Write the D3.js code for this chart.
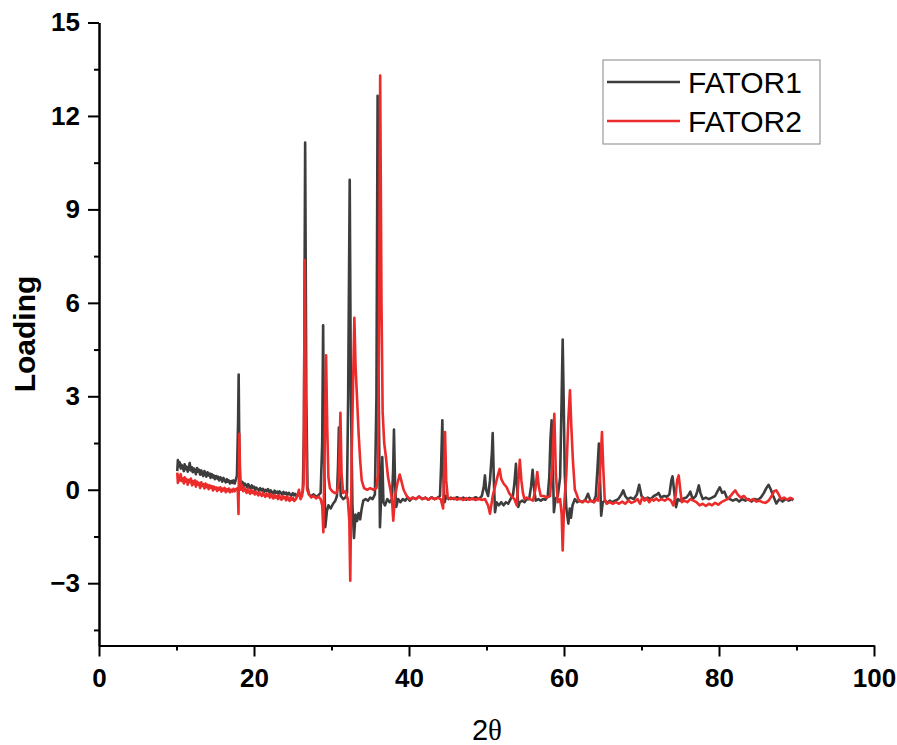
<!DOCTYPE html>
<html>
<head>
<meta charset="utf-8">
<script src="https://cdn.jsdelivr.net/npm/d3@7"></script>
<style>
  body { margin: 0; background: #fff; }
  svg { display: block; font-family: "Liberation Sans", Arial, sans-serif; }
  .axis path, .axis line { stroke: #000; stroke-width: 2px; }
  .axis text { font-size: 26px; font-weight: bold; fill: #000; }
  .series { fill: none; stroke-width: 2.6px; stroke-linejoin: round; }
</style>
</head>
<body>
<div id="chart"></div>
<script>
// series names and their loading profiles as [2θ, loading]
const seriesNames = ['FATOR1', 'FATOR2'];

const fator1Points = [
  [10.1,0.6],[10.18,0.95],[10.3,0.75],[10.4,0.88],[10.55,0.68],[10.65,0.8],[10.8,0.72],[10.95,0.6],[11.05,0.82],[11.2,0.66],
  [11.3,0.74],[11.45,0.58],[11.6,0.7],[11.7,0.86],[11.85,0.62],[12.0,0.72],[12.1,0.56],[12.25,0.68],[12.4,0.6],[12.5,0.5],
  [12.65,0.7],[12.8,0.58],[12.9,0.64],[13.05,0.48],[13.2,0.62],[13.3,0.54],[13.45,0.44],[13.6,0.6],[13.75,0.5],[13.85,0.42],
  [14.0,0.56],[14.15,0.46],[14.3,0.52],[14.4,0.38],[14.55,0.5],[14.7,0.4],[14.8,0.46],[14.95,0.34],[15.1,0.44],[15.25,0.36],
  [15.35,0.42],[15.5,0.3],[15.65,0.4],[15.8,0.34],[15.9,0.26],[16.05,0.38],[16.2,0.3],[16.35,0.24],[16.5,0.34],[16.6,0.26],
  [16.75,0.3],[16.9,0.2],[17.05,0.28],[17.2,0.22],[17.35,0.3],[17.5,0.2],[17.65,0.32],[17.8,0.45],
  [17.95,2.2],[18.02,3.7],[18.1,1.5],[18.2,0.3],[18.35,0.15],[18.5,0.25],[18.65,0.12],[18.8,0.2],[18.95,0.16],[19.1,0.08],
  [19.25,0.18],[19.4,0.1],[19.55,0.04],[19.7,0.14],[19.85,0.06],[20.0,0.1],[20.15,-0.01],[20.3,0.07],[20.5,0.02],[20.65,-0.04],
  [20.8,0.05],[21.0,-0.02],[21.15,0.03],[21.3,-0.07],[21.5,0.0],[21.65,-0.05],[21.8,0.02],[22.0,-0.09],[22.15,-0.02],[22.3,-0.07],
  [22.5,-0.12],[22.65,-0.03],[22.8,-0.1],[23.0,-0.06],[23.15,-0.13],[23.3,-0.05],[23.5,-0.11],[23.65,-0.16],[23.8,-0.07],[24.0,-0.13],
  [24.15,-0.09],[24.3,-0.17],[24.5,-0.1],[24.65,-0.15],[24.8,-0.2],[25.0,-0.11],[25.15,-0.18],[25.3,-0.13],[25.5,-0.21],[25.7,-0.14],
  [25.9,-0.2],[26.1,-0.15],[26.3,-0.05],[26.45,2.0],[26.6,11.15],[26.75,3.0],[26.9,0.1],
  [27.1,-0.15],[27.4,-0.2],[27.7,-0.15],[28.0,-0.22],[28.3,-0.18],[28.6,-0.1],[28.8,1.5],[28.92,5.28],[29.05,1.0],[29.2,-1.2],
  [29.4,-0.7],[29.6,-0.5],[29.9,-0.6],[30.2,-0.45],[30.5,-0.35],[30.7,-0.2],[30.85,0.8],[30.95,2.0],[31.05,0.5],[31.2,-0.2],
  [31.5,-0.3],[31.8,-0.25],[32.0,-0.1],[32.15,3.0],[32.35,9.95],[32.5,3.0],[32.7,-0.5],[32.9,-1.55],[33.1,-0.8],[33.3,-1.0],
  [33.5,-0.75],[33.7,-0.95],[33.9,-0.6],[34.1,-0.35],[34.4,-0.3],[34.7,-0.35],[35.0,-0.25],[35.3,-0.3],[35.6,-0.15],[35.8,3.0],
  [35.95,12.65],[36.1,3.0],[36.25,-1.2],[36.4,-0.3],[36.55,1.05],[36.7,-0.4],[36.9,-0.5],[37.2,-0.3],[37.5,-0.4],[37.8,-0.3],
  [37.95,0.6],[38.06,1.93],[38.2,0.2],[38.35,-0.55],[38.6,-0.3],[38.9,-0.4],[39.2,-0.3],[39.5,-0.35],[39.8,-0.25],[40.1,-0.35],
  [40.5,-0.25],[40.9,-0.3],[41.3,-0.22],[41.7,-0.3],[42.1,-0.25],[42.5,-0.32],[42.9,-0.24],[43.3,-0.3],[43.7,-0.25],[44.0,-0.2],
  [44.15,0.8],[44.3,2.23],[44.45,0.3],[44.6,-0.4],[44.8,-0.2],[45.1,-0.3],[45.4,-0.25],[45.8,-0.3],[46.2,-0.24],[46.6,-0.3],
  [47.0,-0.25],[47.4,-0.32],[47.8,-0.26],[48.2,-0.3],[48.6,-0.24],[49.0,-0.3],[49.4,-0.2],[49.65,0.1],[49.8,0.46],[49.95,0.0],
  [50.2,-0.2],[50.45,0.3],[50.7,1.2],[50.8,1.82],[50.95,0.3],[51.1,-0.72],[51.3,-0.4],[51.6,-0.5],[51.9,-0.4],[52.2,-0.5],
  [52.5,-0.4],[52.8,-0.45],[53.1,-0.3],[53.4,-0.2],[53.6,0.2],[53.8,0.83],[53.95,0.1],[54.1,-0.55],[54.3,-0.4],[54.6,-0.35],
  [54.9,-0.4],[55.2,-0.3],[55.5,-0.3],[55.75,0.1],[55.95,0.64],[56.15,0.0],[56.35,-0.35],[56.7,-0.3],[57.0,-0.35],[57.3,-0.3],
  [57.6,-0.32],[57.9,-0.2],[58.1,0.4],[58.25,1.6],[58.4,2.23],[58.55,0.8],[58.7,-0.72],[58.9,-0.3],[59.2,-0.2],[59.5,0.4],
  [59.7,3.0],[59.83,4.82],[59.95,3.0],[60.1,0.5],[60.3,-0.6],[60.56,-1.09],[60.75,-0.6],[60.9,-0.9],[61.1,-0.5],[61.4,-0.3],
  [61.7,-0.4],[62.0,-0.35],[62.4,-0.4],[62.8,-0.3],[63.1,-0.13],[63.4,-0.35],[63.8,-0.4],[64.1,-0.2],[64.3,0.6],[64.5,1.48],
  [64.65,0.3],[64.8,-0.83],[65.0,-0.4],[65.3,-0.35],[65.6,-0.42],[65.9,-0.35],[66.2,-0.4],[66.6,-0.35],[67.0,-0.3],[67.4,-0.15],
  [67.65,-0.02],[67.9,-0.2],[68.2,-0.3],[68.6,-0.25],[69.0,-0.3],[69.4,-0.15],[69.7,0.16],[70.0,-0.2],[70.4,-0.3],[70.8,-0.25],
  [71.2,-0.3],[71.6,-0.2],[72.0,-0.15],[72.2,-0.1],[72.5,-0.25],[72.9,-0.2],[73.3,-0.22],[73.6,-0.15],[73.85,0.3],[74.0,0.43],
  [74.2,0.0],[74.45,-0.56],[74.7,-0.3],[75.0,-0.35],[75.4,-0.28],[75.8,-0.25],[76.1,-0.15],[76.3,-0.06],[76.6,-0.3],[77.0,-0.2],
  [77.2,-0.05],[77.4,0.14],[77.6,-0.1],[77.9,-0.3],[78.3,-0.25],[78.7,-0.3],[79.1,-0.25],[79.5,-0.2],[79.8,-0.05],[80.1,0.08],
  [80.4,-0.1],[80.7,-0.06],[81.0,-0.25],[81.4,-0.3],[81.8,-0.35],[82.2,-0.3],[82.6,-0.38],[83.0,-0.3],[83.4,-0.35],[83.8,-0.3],
  [84.2,-0.38],[84.6,-0.3],[85.0,-0.33],[85.4,-0.25],[85.8,-0.1],[86.1,0.05],[86.4,0.16],[86.7,0.0],[87.0,-0.2],[87.4,-0.44],
  [87.8,-0.3],[88.2,-0.38],[88.6,-0.3],[89.0,-0.35],[89.4,-0.3],[89.6,-0.33]
];

const fator2Points = [
  [10.1,0.55],[10.18,0.22],[10.3,0.45],[10.4,0.3],[10.55,0.5],[10.65,0.28],[10.8,0.36],[10.95,0.2],[11.05,0.4],[11.2,0.26],
  [11.3,0.34],[11.45,0.16],[11.6,0.32],[11.7,0.24],[11.85,0.36],[12.0,0.14],[12.1,0.28],[12.25,0.18],[12.4,0.3],[12.5,0.1],
  [12.65,0.26],[12.8,0.16],[12.9,0.22],[13.05,0.06],[13.2,0.24],[13.3,0.12],[13.45,0.18],[13.6,0.04],[13.75,0.2],[13.85,0.08],
  [14.0,0.16],[14.15,0.02],[14.3,0.14],[14.4,0.06],[14.55,0.12],[14.7,-0.02],[14.8,0.1],[14.95,0.02],[15.1,0.08],[15.25,-0.04],
  [15.35,0.06],[15.5,0.0],[15.65,0.08],[15.8,-0.06],[15.9,0.04],[16.05,-0.02],[16.2,0.06],[16.35,-0.08],[16.5,0.02],[16.6,-0.04],
  [16.75,0.04],[16.9,-0.08],[17.05,0.0],[17.2,-0.06],[17.35,0.03],[17.5,-0.05],[17.65,0.02],[17.9,0.05],
  [18.0,-0.78],[18.1,1.8],[18.2,0.6],[18.3,0.0],[18.45,0.15],[18.6,-0.05],[18.75,0.06],[18.9,-0.02],[19.05,-0.1],[19.2,0.03],
  [19.35,-0.08],[19.5,-0.13],[19.65,0.0],[19.8,-0.1],[19.95,-0.05],[20.1,-0.15],[20.25,-0.06],[20.4,-0.12],[20.55,-0.18],[20.7,-0.08],
  [20.85,-0.15],[21.0,-0.2],[21.15,-0.1],[21.3,-0.17],[21.45,-0.23],[21.6,-0.12],[21.75,-0.2],[21.9,-0.15],[22.05,-0.25],[22.2,-0.14],
  [22.35,-0.22],[22.5,-0.28],[22.65,-0.17],[22.8,-0.25],[22.95,-0.2],[23.1,-0.3],[23.25,-0.18],[23.4,-0.27],[23.55,-0.32],[23.7,-0.21],
  [23.85,-0.28],[24.0,-0.23],[24.15,-0.34],[24.3,-0.22],[24.45,-0.3],[24.6,-0.36],[24.75,-0.24],[24.9,-0.32],[25.05,-0.27],[25.2,-0.36],
  [25.4,-0.3],[25.6,-0.2],[25.8,0.0],[26.0,-0.3],[26.2,-0.2],[26.4,0.2],[26.55,7.37],[26.7,2.0],[26.85,0.0],[27.1,-0.15],
  [27.4,-0.25],[27.7,-0.2],[28.0,-0.28],[28.3,-0.22],[28.6,-0.3],[28.8,-0.5],[28.95,-1.36],[29.1,1.0],[29.3,4.32],[29.45,2.0],
  [29.6,0.4],[29.8,0.05],[30.1,-0.05],[30.4,-0.1],[30.7,-0.1],[30.95,0.3],[31.15,2.47],[31.3,0.5],[31.5,-0.1],[31.8,-0.05],
  [32.1,-0.3],[32.3,-1.0],[32.42,-2.92],[32.6,1.0],[32.95,5.52],[33.1,4.0],[33.25,3.19],[33.5,1.8],[33.7,0.94],[33.9,0.3],
  [34.2,0.05],[34.6,0.0],[35.0,0.05],[35.4,0.0],[35.8,0.05],[36.0,0.5],[36.15,6.0],[36.28,13.3],[36.45,6.0],[36.6,2.5],
  [36.8,1.5],[37.0,1.1],[37.3,0.4],[37.6,0.0],[37.8,-0.3],[37.97,-0.99],[38.2,-0.2],[38.5,0.2],[38.8,0.49],[39.0,0.3],
  [39.3,0.0],[39.7,-0.2],[40.1,-0.3],[40.5,-0.25],[40.9,-0.3],[41.3,-0.22],[41.7,-0.3],[42.1,-0.26],[42.5,-0.32],[42.9,-0.25],
  [43.3,-0.3],[43.7,-0.26],[44.1,-0.3],[44.4,-0.6],[44.55,0.8],[44.65,1.85],[44.8,0.3],[45.0,-0.25],[45.4,-0.3],[45.8,-0.26],
  [46.2,-0.32],[46.6,-0.27],[47.0,-0.33],[47.4,-0.27],[47.8,-0.32],[48.2,-0.28],[48.6,-0.33],[49.0,-0.28],[49.4,-0.33],[49.8,-0.3],
  [50.2,-0.5],[50.45,-0.77],[50.8,-0.2],[51.2,0.2],[51.5,0.5],[51.7,0.67],[51.9,0.35],[52.2,0.2],[52.6,0.08],[52.9,-0.1],
  [53.2,-0.2],[53.6,-0.3],[53.9,-0.5],[54.1,0.2],[54.3,0.96],[54.5,0.3],[54.7,-0.1],[54.9,-0.3],[55.2,-0.25],[55.6,-0.3],
  [56.0,-0.35],[56.3,0.0],[56.55,0.57],[56.75,0.1],[57.0,-0.2],[57.4,-0.2],[57.8,-0.25],[58.2,-0.2],[58.5,0.8],[58.75,2.44],
  [58.95,0.5],[59.2,-0.4],[59.5,-0.3],[59.7,-0.8],[59.83,-1.95],[60.0,-0.6],[60.3,0.5],[60.55,2.2],[60.77,3.19],[60.95,2.0],
  [61.15,0.94],[61.4,0.0],[61.6,-0.12],[61.9,-0.35],[62.3,-0.4],[62.7,-0.35],[63.1,-0.4],[63.5,-0.35],[63.9,-0.4],[64.2,-0.3],
  [64.4,-0.35],[64.6,0.3],[64.9,1.85],[65.05,0.8],[65.25,-0.3],[65.5,-0.45],[65.9,-0.4],[66.3,-0.45],[66.7,-0.4],[67.1,-0.45],
  [67.5,-0.38],[67.9,-0.45],[68.3,-0.35],[68.7,-0.42],[69.1,-0.38],[69.5,-0.3],[69.8,-0.45],[70.1,-0.25],[70.4,-0.35],[70.7,-0.28],
  [71.0,-0.4],[71.3,-0.3],[71.6,-0.35],[71.9,-0.28],[72.2,-0.35],[72.6,-0.3],[73.0,-0.35],[73.4,-0.28],[73.8,-0.35],[74.1,-0.5],
  [74.4,-0.2],[74.6,0.3],[74.8,0.46],[75.0,0.0],[75.2,-0.4],[75.5,-0.35],[75.9,-0.4],[76.3,-0.3],[76.7,-0.35],[77.1,-0.4],
  [77.5,-0.5],[77.9,-0.45],[78.3,-0.52],[78.7,-0.45],[79.1,-0.5],[79.5,-0.42],[79.9,-0.48],[80.3,-0.4],[80.7,-0.35],[81.1,-0.3],
  [81.5,-0.2],[81.8,-0.1],[82.1,-0.02],[82.4,-0.15],[82.8,-0.25],[83.2,-0.2],[83.6,-0.3],[84.0,-0.35],[84.4,-0.3],[84.8,-0.38],
  [85.2,-0.35],[85.6,-0.4],[86.0,-0.42],[86.4,-0.35],[86.8,-0.2],[87.1,-0.05],[87.4,-0.02],[87.7,-0.15],[88.0,-0.3],[88.4,-0.25],
  [88.8,-0.32],[89.2,-0.26],[89.6,-0.3]
];

// axis ticks
const xTicks = [0, 20, 40, 60, 80, 100];
const xMinorTicks = [10, 30, 50, 70, 90];
const yTicks = [-3, 0, 3, 6, 9, 12, 15];
const yMinorTicks = [-4.5, -1.5, 1.5, 4.5, 7.5, 10.5, 13.5];

const colors = ['#3d3d3d', '#ec2b2b'];

function drawChart() {
  const width = 897, height = 745;
  const margin = {top: 22.5, right: 23, bottom: 99.5, left: 99};

  const svg = d3.select('#chart').append('svg')
    .attr('width', width)
    .attr('height', height);

  const x = d3.scaleLinear().domain([0, 100]).range([margin.left, width - margin.right]);
  const y = d3.scaleLinear().domain([-5, 15]).range([height - margin.bottom, margin.top]);

  // minor ticks first, then the labelled axes on top
  svg.append('g')
    .attr('class', 'axis')
    .attr('transform', `translate(0,${y(-5)})`)
    .call(d3.axisBottom(x).tickValues(xMinorTicks).tickSize(5).tickSizeOuter(0).tickFormat(''));

  svg.append('g')
    .attr('class', 'axis')
    .attr('transform', `translate(${x(0)},0)`)
    .call(d3.axisLeft(y).tickValues(yMinorTicks).tickSize(5).tickSizeOuter(0).tickFormat(''));

  svg.append('g')
    .attr('class', 'axis')
    .attr('transform', `translate(0,${y(-5)})`)
    .call(d3.axisBottom(x).tickValues(xTicks).tickSize(11).tickSizeOuter(0).tickPadding(12));

  svg.append('g')
    .attr('class', 'axis')
    .attr('transform', `translate(${x(0)},0)`)
    .call(d3.axisLeft(y).tickValues(yTicks).tickSize(11).tickSizeOuter(0).tickPadding(8));

  // axis titles
  svg.append('text')
    .attr('transform', `translate(35,334) rotate(-90)`)
    .attr('text-anchor', 'middle')
    .style('font-size', '30px')
    .style('font-weight', 'bold')
    .text('Loading');

  const xTitle = svg.append('text')
    .attr('x', 487)
    .attr('y', 740)
    .attr('text-anchor', 'middle')
    .style('font-size', '29px');
  xTitle.append('tspan').text('2');
  xTitle.append('tspan').style('font-family', '"Liberation Serif", serif').text('θ');

  const line = d3.line()
    .x(d => x(d[0]))
    .y(d => y(d[1]));

  [fator1Points, fator2Points].forEach((pts, i) => {
    svg.append('path')
      .datum(pts)
      .attr('class', 'series')
      .attr('stroke', colors[i])
      .attr('d', line);
  });

  // legend
  const legend = svg.append('g').attr('transform', 'translate(603,60)');
  legend.append('rect')
    .attr('width', 217)
    .attr('height', 84)
    .attr('fill', '#fff')
    .attr('stroke', '#9a9a9a')
    .attr('stroke-width', 1.2);

  seriesNames.forEach((name, i) => {
    const row = legend.append('g').attr('transform', `translate(0,${22 + i * 39})`);
    row.append('line')
      .attr('x1', 4).attr('x2', 77)
      .attr('stroke', colors[i])
      .attr('stroke-width', 2.4);
    row.append('text')
      .attr('x', 85)
      .attr('y', 11)
      .style('font-size', '30px')
      .text(name);
  });
}

drawChart();
</script>
</body>
</html>
